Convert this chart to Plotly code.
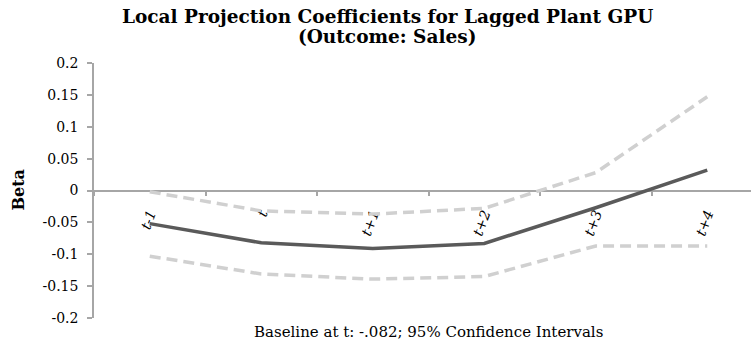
import plotly.graph_objects as go

# Horizons of the local projection
horizons = ["t-1", "t", "t+1", "t+2", "t+3", "t+4"]

# Point estimates and 95% confidence bounds
beta = [-0.052, -0.082, -0.091, -0.083, -0.027, 0.032]
upper_ci = [-0.002, -0.032, -0.037, -0.028, 0.028, 0.147]
lower_ci = [-0.103, -0.131, -0.139, -0.135, -0.087, -0.087]

# Y axis ticks
y_ticks = [0.2, 0.15, 0.1, 0.05, 0, -0.05, -0.1, -0.15, -0.2]
y_tick_labels = ["0.2", "0.15", "0.1", "0.05", "0", "-0.05", "-0.1", "-0.15", "-0.2"]

SERIF = "DejaVu Serif"
AXIS_GREY = "#a6a6a6"
W, H = 751, 344
ML, MR, MT, MB = 94, 0, 63, 26

fig = go.Figure()

ci_style = dict(color="#d0d0d0", width=3.5, dash="11px,6px")
fig.add_trace(go.Scatter(x=horizons, y=upper_ci, mode="lines", line=ci_style,
                         showlegend=False, hoverinfo="skip"))
fig.add_trace(go.Scatter(x=horizons, y=lower_ci, mode="lines", line=ci_style,
                         showlegend=False, hoverinfo="skip"))
fig.add_trace(go.Scatter(x=horizons, y=beta, mode="lines",
                         line=dict(color="#5a5a5a", width=3.5),
                         showlegend=False))

plot_w = W - ML - MR
plot_h = H - MT - MB


def px_to_paper_y(py):
    """Convert a pixel row (from the top of the page) to paper y."""
    return (H - MB - py) / plot_h


fig.update_layout(
    width=W, height=H,
    margin=dict(l=ML, r=MR, t=MT, b=MB, pad=0),
    paper_bgcolor="white", plot_bgcolor="white",
    font=dict(family=SERIF, color="#000000"),
    xaxis=dict(
        type="category",
        range=[-0.5, -0.5 + plot_w / 111.5],
        anchor="free", position=0.5,
        showline=True, linecolor=AXIS_GREY, linewidth=1.5,
        ticks="outside", tickson="boundaries", ticklen=5,
        tickcolor=AXIS_GREY, tickwidth=1.5,
        tickangle=-70,
        tickfont=dict(family=SERIF, size=14, style="italic", color="#000"),
        ticklabelstandoff=9,
        showgrid=False, zeroline=False, layer="below traces",
    ),
    yaxis=dict(
        range=[-0.2, 0.2],
        tickmode="array", tickvals=y_ticks, ticktext=y_tick_labels,
        showline=True, linecolor=AXIS_GREY, linewidth=1.5,
        ticks="outside", ticklen=5, tickcolor=AXIS_GREY, tickwidth=1.5,
        tickfont=dict(family=SERIF, size=14, color="#000"),
        ticklabelstandoff=6,
        showgrid=False, zeroline=False,
    ),
)

# Two-line title
title_x = (387 - ML) / plot_w
for line, row in [("Local Projection Coefficients for Lagged Plant GPU", 17),
                  ("(Outcome: Sales)", 37)]:
    fig.add_annotation(
        text=f"<b>{line}</b>",
        xref="paper", yref="paper",
        x=title_x, y=px_to_paper_y(row),
        xanchor="center", yanchor="middle", showarrow=False,
        font=dict(family=SERIF, size=18.5, color="#000"),
    )

# Y axis title
fig.add_annotation(
    text="<b>Beta</b>", textangle=-90,
    xref="paper", yref="paper",
    x=(18 - ML) / plot_w, y=0.5,
    xanchor="center", yanchor="middle", showarrow=False,
    font=dict(family=SERIF, size=16, color="#000"),
)

# X axis caption
fig.add_annotation(
    text="Baseline at t: -.082; 95% Confidence Intervals",
    xref="paper", yref="paper",
    x=(428 - ML) / plot_w, y=px_to_paper_y(332),
    xanchor="center", yanchor="middle", showarrow=False,
    font=dict(family=SERIF, size=15, color="#000"),
)

fig.write_html("out.html")
